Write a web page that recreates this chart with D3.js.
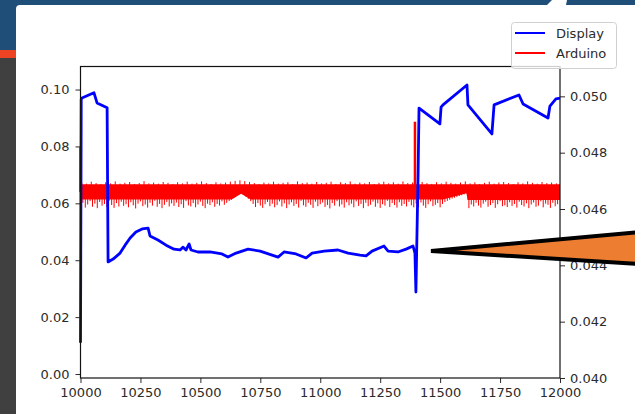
<!DOCTYPE html>
<html>
<head>
<meta charset="utf-8">
<script src="https://cdn.jsdelivr.net/npm/d3@7/dist/d3.min.js"></script>
<style>
  html, body { margin: 0; padding: 0; background: #fff; }
  svg { display: block; }
  text { font-family: "DejaVu Sans", sans-serif; }
</style>
</head>
<body>
<svg id="chart" width="635" height="414"></svg>
<script>
// ---------- DATA ----------
const xTicks = [10000, 10250, 10500, 10750, 11000, 11250, 11500, 11750, 12000];
const leftTicks = [0.00, 0.02, 0.04, 0.06, 0.08, 0.10];
const rightTicks = [0.040, 0.042, 0.044, 0.046, 0.048, 0.050];
const seriesNames = ["Display", "Arduino"];

// Display (left axis)
const displayX = [10000, 10003, 10006, 10056, 10069, 10111, 10115, 10136, 10165, 10186, 10207, 10231, 10257, 10282,
  10290, 10323, 10357, 10390, 10415, 10428, 10440, 10453, 10461, 10490, 10540, 10590, 10615, 10649, 10699, 10749,
  10799, 10824, 10849, 10899, 10941, 10966, 11016, 11074, 11116, 11166, 11191, 11216, 11266, 11283, 11324, 11358,
  11387, 11395, 11399, 11408, 11412, 11499, 11504, 11512, 11612, 11616, 11716, 11725, 11829, 11846, 11950, 11958,
  11983, 12000];
const displayY = [0.0110, 0.0965, 0.0970, 0.0989, 0.0953, 0.0936, 0.0394, 0.0404, 0.0425, 0.0453, 0.0478, 0.0499, 0.0510, 0.0513,
  0.0485, 0.0471, 0.0453, 0.0439, 0.0436, 0.0446, 0.0436, 0.0457, 0.0436, 0.0429, 0.0429, 0.0422, 0.0411, 0.0425, 0.0439, 0.0432,
  0.0418, 0.0411, 0.0429, 0.0422, 0.0408, 0.0425, 0.0432, 0.0436, 0.0425, 0.0418, 0.0415, 0.0432, 0.0450, 0.0432, 0.0429, 0.0439,
  0.0450, 0.0425, 0.0288, 0.0700, 0.0935, 0.0879, 0.0938, 0.0946, 0.1016, 0.0946, 0.0844, 0.0946, 0.0981, 0.0949, 0.0900, 0.0942,
  0.0967, 0.0970];

// Arduino (right axis): dense noisy band -> core envelope + spikes + two peaks
const arduinoCoreX    = [10000, 10630, 10670, 10710, 11512, 11610, 11614, 12000];
const arduinoCoreHigh = [0.04688, 0.04688, 0.04688, 0.04688, 0.04688, 0.04688, 0.04688, 0.04688];
const arduinoCoreLow  = [0.04634, 0.04634, 0.04654, 0.04634, 0.04634, 0.04656, 0.04632, 0.04632];

const arduinoLowStart = 10000, arduinoLowStep = 10;
const arduinoSpikeLow = [
  0.04610,0.04622,0.04605,0.04616,0.04628,0.04608,0.04619,0.04603,0.04625,0.04612,0.04618,0.04607,0.04630,0.04614,0.04604,0.04621,0.04609,0.04626,0.04611,0.04617,
  0.04606,0.04624,0.04613,0.04602,0.04619,0.04627,0.04610,0.04616,0.04605,0.04622,0.04612,0.04629,0.04608,0.04618,0.04603,0.04615,0.04625,0.04609,0.04620,0.04611,
  0.04623,0.04607,0.04617,0.04604,0.04628,0.04613,0.04609,0.04621,0.04606,0.04616,0.04626,0.04611,0.04603,0.04619,0.04614,0.04624,0.04608,0.04618,0.04612,0.04627,
  0.04615,0.04622,0.04628,0.04633,0.04640,0.04646,0.04652,0.04655,0.04650,0.04644,0.04636,0.04628,0.04618,0.04607,0.04621,0.04612,0.04604,0.04617,0.04625,0.04610,
  0.04619,0.04606,0.04614,0.04627,0.04609,0.04620,0.04603,0.04616,0.04624,0.04611,0.04618,0.04605,0.04629,0.04613,0.04608,0.04622,0.04615,0.04604,0.04626,0.04610,
  0.04617,0.04623,0.04607,0.04614,0.04602,0.04621,0.04612,0.04628,0.04609,0.04616,0.04605,0.04624,0.04613,0.04619,0.04606,0.04627,0.04611,0.04618,0.04603,0.04622,
  0.04610,0.04615,0.04626,0.04608,0.04620,0.04604,0.04617,0.04612,0.04629,0.04607,0.04621,0.04614,0.04605,0.04624,0.04611,0.04618,0.04609,0.04625,0.04613,0.04606,
  0.04619,0.04608,0.04623,0.04612,0.04604,0.04617,0.04627,0.04610,0.04615,0.04621,0.04606,0.04618,0.04625,0.04629,0.04633,0.04637,0.04640,0.04643,0.04646,0.04649,
  0.04652,0.04655,0.04603,0.04616,0.04609,0.04622,0.04612,0.04605,0.04619,0.04626,0.04608,0.04614,0.04621,0.04604,0.04617,0.04628,0.04610,0.04613,0.04607,0.04624,
  0.04611,0.04618,0.04605,0.04626,0.04614,0.04609,0.04620,0.04603,0.04616,0.04623,0.04608,0.04612,0.04627,0.04606,0.04619,0.04615,0.04604,0.04622,0.04610,0.04617];

const arduinoHighStart = 10005, arduinoHighStep = 20;
const arduinoSpikeHigh = [
  0.04694,0.04690,0.04697,0.04692,0.04689,0.04695,0.04691,0.04698,0.04690,0.04693,
  0.04696,0.04689,0.04692,0.04699,0.04691,0.04694,0.04690,0.04696,0.04693,0.04689,
  0.04695,0.04691,0.04697,0.04690,0.04693,0.04698,0.04692,0.04689,0.04695,0.04691,
  0.04694,0.04697,0.04700,0.04702,0.04699,0.04696,0.04692,0.04689,0.04694,0.04691,
  0.04697,0.04690,0.04693,0.04695,0.04689,0.04698,0.04692,0.04694,0.04690,0.04696,
  0.04691,0.04693,0.04697,0.04689,0.04695,0.04692,0.04698,0.04690,0.04694,0.04691,
  0.04696,0.04689,0.04693,0.04697,0.04691,0.04695,0.04690,0.04698,0.04692,0.04694,
  0.04690,0.04696,0.04692,0.04689,0.04695,0.04691,0.04697,0.04693,0.04690,0.04694,
  0.04698,0.04691,0.04695,0.04689,0.04693,0.04697,0.04690,0.04694,0.04696,0.04692,
  0.04689,0.04695,0.04691,0.04698,0.04693,0.04690,0.04696,0.04692,0.04694,0.04691];
const arduinoPeakX = [10000, 11395];
const arduinoPeakY = [0.0482, 0.0491];

// ---------- LAYOUT ----------
const svg = d3.select("#chart");
const W = 635, H = 414;
const plot = {left: 80.5, right: 560, top: 66.5, bottom: 378};

// slide background
svg.append("rect").attr("x", 0).attr("y", 0).attr("width", W).attr("height", H).attr("fill", "#1f4e79");
svg.append("rect").attr("x", 0).attr("y", 50).attr("width", 16).attr("height", 8).attr("fill", "#ee4423");
svg.append("rect").attr("x", 0).attr("y", 58).attr("width", 16).attr("height", H - 58).attr("fill", "#404040");
svg.append("path").attr("d", `M16,${H} L16,9 Q16,5 20,5 L${W},5 L${W},${H} Z`).attr("fill", "#ffffff");
svg.append("path").attr("d", "M547,5 L552,0 L567,0 L566,5 Z").attr("fill", "#ffffff");

// scales
const x = d3.scaleLinear().domain([10000, 12000]).range([plot.left, plot.right]);
const yL = d3.scaleLinear().domain([-0.0014, 0.1081]).range([plot.bottom, plot.top]);
const yR = d3.scaleLinear().domain([0.040, 0.05106]).range([plot.bottom, plot.top]);

const g = svg.append("g");
const red = "#ff0000";

// Arduino core band
const core = arduinoCoreX.map((d, i) => ({x: d, hi: arduinoCoreHigh[i], lo: arduinoCoreLow[i]}));
g.append("path").datum(core)
  .attr("d", d3.area().x(d => x(d.x)).y0(d => yR(d.lo)).y1(d => yR(d.hi)))
  .attr("fill", red);
// downward spikes
const lows = arduinoSpikeLow.map((v, i) => ({x: arduinoLowStart + i * arduinoLowStep, v}));
g.append("g").selectAll("line").data(lows).join("line")
  .attr("x1", d => x(d.x)).attr("x2", d => x(d.x))
  .attr("y1", yR(0.0466)).attr("y2", d => yR(d.v))
  .attr("stroke", red).attr("stroke-width", 1);
// upward spikes
const highs = arduinoSpikeHigh.map((v, i) => ({x: arduinoHighStart + i * arduinoHighStep, v}));
g.append("g").selectAll("line").data(highs).join("line")
  .attr("x1", d => x(d.x)).attr("x2", d => x(d.x))
  .attr("y1", yR(0.0466)).attr("y2", d => yR(d.v))
  .attr("stroke", red).attr("stroke-width", 1);
// peaks
g.append("g").selectAll("line").data(arduinoPeakX.map((d, i) => ({x: d, v: arduinoPeakY[i]}))).join("line")
  .attr("x1", d => x(d.x)).attr("x2", d => x(d.x))
  .attr("y1", yR(0.0466)).attr("y2", d => yR(d.v))
  .attr("stroke", red).attr("stroke-width", 2.5);

// Display line
const disp = displayX.map((d, i) => ({x: d, y: displayY[i]}));
g.append("path").datum(disp)
  .attr("d", d3.line().x(d => x(d.x)).y(d => yL(d.y)))
  .attr("fill", "none").attr("stroke", "#0000ff").attr("stroke-width", 2.8)
  .attr("stroke-linejoin", "round");

// axes
function styleAxis(sel) {
  sel.select(".domain").remove();
  sel.selectAll("text").attr("font-size", 13).attr("fill", "#2b2b2b")
    .attr("font-family", "DejaVu Sans, sans-serif");
  sel.selectAll("line").attr("stroke", "#2b2b2b");
}
svg.append("g").attr("transform", `translate(${plot.left},0)`)
  .call(d3.axisLeft(yL).tickValues(leftTicks).tickFormat(d3.format(".2f")).tickSize(5).tickPadding(6))
  .call(styleAxis);
svg.append("g").attr("transform", `translate(${plot.right},0)`)
  .call(d3.axisRight(yR).tickValues(rightTicks).tickFormat(d3.format(".3f")).tickSize(5).tickPadding(5))
  .call(styleAxis);
svg.append("g").attr("transform", `translate(0,${plot.bottom})`)
  .call(d3.axisBottom(x).tickValues(xTicks).tickFormat(d3.format("d")).tickSize(5).tickPadding(5))
  .call(styleAxis);

// frame
svg.append("rect").attr("x", plot.left).attr("y", plot.top)
  .attr("width", plot.right - plot.left).attr("height", plot.bottom - plot.top)
  .attr("fill", "none").attr("stroke", "#111").attr("stroke-width", 1.2);

// legend
const lg = svg.append("g");
lg.append("rect").attr("x", 511.5).attr("y", 22.5).attr("width", 105).attr("height", 46).attr("rx", 3)
  .attr("fill", "#ffffff").attr("fill-opacity", 0.8).attr("stroke", "#d0d0d0");
const legColors = ["#0000ff", "#ff0000"];
seriesNames.forEach((n, i) => {
  const yy = 33 + i * 20;
  lg.append("line").attr("x1", 515).attr("x2", 545).attr("y1", yy).attr("y2", yy)
    .attr("stroke", legColors[i]).attr("stroke-width", 2);
  lg.append("text").attr("x", 556).attr("y", yy + 4.7).attr("font-size", 13).attr("fill", "#2b2b2b").text(n);
});

// callout arrow
svg.append("path").attr("d", "M431,251 L640,232 L640,264 Z")
  .attr("fill", "#ed7d31").attr("stroke", "#000").attr("stroke-width", 4).attr("stroke-linejoin", "miter");
</script>
</body>
</html>
